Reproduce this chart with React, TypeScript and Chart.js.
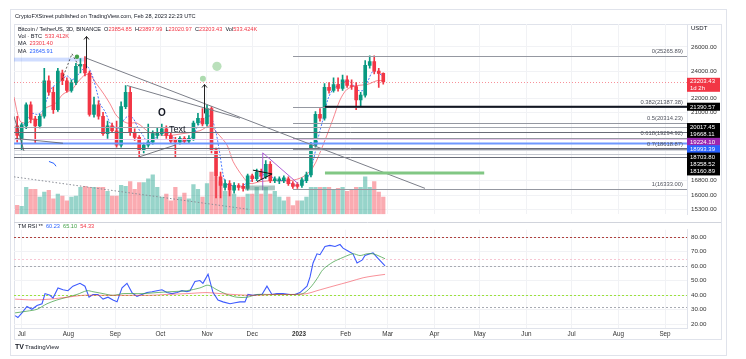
import React, { useEffect, useRef } from "react";
import { Chart, registerables } from "chart.js";
Chart.register(...registerables);

const FONT = '"Liberation Sans", Arial, Helvetica, sans-serif';
const UP = "#089981";
const DOWN = "#f23645";
const TXT = "#131722";

// ---- time axis (days since 2022-07-01) ----
const monthDays = [0, 31, 62, 92, 123, 153, 184, 215, 243, 274, 304, 335, 365, 396, 427];
const monthLabels = ["Jul", "Aug", "Sep", "Oct", "Nov", "Dec", "2023", "Feb", "Mar", "Apr", "May", "Jun", "Jul", "Aug", "Sep"];

// ---- 3D candles ----
const candleDays = [-3, 0, 3, 6, 9, 12, 15, 18, 21, 24, 27, 30, 33, 36, 39, 42, 45, 48, 51, 54,
  57, 60, 63, 66, 69, 72, 75, 78, 81, 84, 87, 90, 93, 96, 99, 102, 105, 108, 111, 114,
  117, 120, 123, 126, 129, 132, 135, 138, 141, 144, 147, 150, 153, 156, 159, 162, 165, 168, 171, 174,
  177, 180, 183, 186, 189, 192, 195, 198, 201, 204, 207, 210, 213, 216, 219, 222, 225, 228, 231, 234,
  237, 240];
const opens = [20091, 19288, 20091, 21528, 20538, 20091, 20732, 23286, 22425, 21191,
  23877, 23286, 22567, 23140, 24409, 24562, 23877, 20863, 21528, 20732,
  19594, 20091, 19778, 18869, 21393, 22425, 19654, 19348, 18575, 18869,
  19046, 19470, 19594, 19903, 19470, 19167, 19046, 19288, 19107, 19288,
  20281, 20602, 20218, 21259, 18575, 17013, 16436, 16643, 16282, 16539,
  16488, 16384, 17067, 16906, 17282, 17013, 17721, 16800, 16800, 16800,
  16906, 16643, 16591, 16539, 16800, 17120, 18869, 20863, 20602, 22779,
  22567, 22996, 22708, 23359, 22923, 22851, 21869, 22215, 24485, 24794,
  24028, 23854.85];
const highs = [20732, 20281, 21664, 21732, 20732, 20863, 24255, 23654, 22779, 24255,
  24104, 23506, 23359, 24639, 25029, 25187, 24028, 22075, 21801, 20994,
  20409, 20281, 20409, 21732, 22923, 22779, 19903, 19470, 18988, 20218,
  19778, 19965, 20218, 20091, 19654, 19348, 19409, 19409, 19470, 20409,
  20928, 21259, 21528, 21393, 18692, 17282, 16853, 16800, 16696, 16643,
  16643, 17173, 17173, 17445, 17445, 17945, 17889, 17013, 17013, 17067,
  17013, 16749, 16696, 16959, 17282, 19046, 21060, 21259, 23068, 23140,
  23506, 23506, 23727, 23654, 23359, 23140, 22425, 24873, 25266, 25266,
  24255, 23897.99];
const lows = [19046, 18575, 19903, 20281, 18988, 19965, 20602, 22215, 20928, 21060,
  22996, 22425, 22425, 22996, 23877, 23654, 20732, 20667, 20538, 19470,
  19288, 19716, 18751, 18751, 21259, 19470, 19167, 18172, 18401, 18751,
  18928, 19288, 19470, 19288, 18988, 18172, 18928, 18988, 18988, 19167,
  20154, 20091, 20091, 18401, 15878, 15878, 16282, 15979, 16129, 16282,
  16231, 16282, 16749, 16800, 16906, 16906, 16696, 16696, 16643, 16696,
  16539, 16384, 16384, 16436, 16696, 17013, 18751, 20409, 20473, 22354,
  22425, 22496, 22567, 22779, 22637, 21191, 21393, 22075, 24255, 23801,
  22779, 23020.97];
const closes = [19470, 20154, 21528, 20538, 20091, 20732, 23286, 22425, 21191, 24028,
  23286, 22567, 23140, 24409, 24562, 23877, 20863, 21528, 20732, 19594,
  20091, 19778, 18869, 21393, 22425, 19654, 19348, 18575, 18869, 19046,
  19594, 19654, 19903, 19470, 19107, 19046, 19288, 19107, 19288, 20281,
  20602, 20218, 21259, 18575, 17067, 16539, 16643, 16282, 16539, 16436,
  16384, 17067, 16906, 17282, 17067, 17721, 16800, 16906, 16906, 16959,
  16643, 16488, 16488, 16853, 17120, 18869, 20863, 20602, 22779, 22567,
  22996, 22708, 23359, 22923, 22851, 21869, 22215, 24485, 24794, 24028,
  23854.85, 23203.43];
// volume, thousands of BTC
const volumes = [275, 246, 829, 770, 770, 533, 681, 740, 474, 622,
  562, 414, 533, 562, 829, 858, 829, 829, 829, 829,
  710, 562, 562, 888, 858, 1006, 770, 977, 977, 1095,
  1214, 829, 533, 622, 414, 829, 533, 651, 474, 918,
  770, 533, 947, 1302, 1154, 1006, 710, 710, 622, 533,
  533, 622, 622, 829, 622, 829, 622, 710, 533, 414,
  533, 266, 414, 414, 533, 829, 829, 829, 829, 829,
  770, 800, 829, 710, 770, 829, 829, 1154, 829, 1006,
  681, 533.424];

// ---- moving averages ----
const maSlowDays = [-5.1, -1.1, 3.5, 7.5, 11.5, 15.5, 22.1, 27.4, 33.4, 38.0, 42.0, 45.3, 50.0, 54.6, 58.6, 63.3, 69.9, 76.5, 85.2, 96.4,
  107.1, 118.3, 124.9, 129.6, 136.3, 140.3, 146.9, 151.5, 158.2, 166.8, 178.1, 186.7, 193.4, 200.0, 206.6, 211.3, 215.9, 222.6, 229.2, 235.8, 240];
const maSlowVals = [22075, 20409, 20281, 20538, 20538, 21259, 21596, 22284, 22637, 23286, 23727, 23727, 22996, 22284, 21596, 20732, 20281, 20281, 19654, 19470,
  19594, 19778, 20091, 19654, 18869, 17889, 17013, 16643, 16749, 16800, 16800, 17013, 17555, 18869, 20538, 21869, 22637, 22923, 22996, 23286, 23301.40];
const maFastDays = [-3.1, 0.2, 3.5, 6.8, 10.2, 13.5, 16.8, 20.1, 23.4, 26.7, 30.1, 33.4, 36.7, 40.0, 43.4, 46.7, 50.0, 52.0, 55.3, 58.6,
  60.6, 63.9, 67.2, 70.5, 73.9, 77.2, 80.5, 83.8, 87.2, 90.5, 93.8, 97.1, 100.4, 103.7, 107.1, 110.4, 113.7, 117.0, 120.3, 123.7,
  125.6, 129.0, 131.6, 133.6, 135.6, 138.9, 142.2, 145.6, 148.9, 152.2, 155.5, 158.8, 162.2, 165.5, 168.8, 172.1, 175.4, 178.7, 182.1, 185.4,
  190.0, 193.4, 196.7, 200.0, 203.3, 206.6, 210.0, 213.3, 216.6, 219.9, 223.3, 226.6, 229.9, 233.2, 236.5, 239.8];
const maFastVals = [19654, 19965, 20538, 20928, 20863, 21060, 21938, 22779, 22996, 23359, 23654, 23359, 23654, 24104, 24409, 23727, 22425, 21596, 21060, 20281,
  20091, 19903, 20409, 20732, 20602, 19965, 19470, 19046, 19167, 19470, 19654, 19654, 19348, 19167, 19107, 19167, 19470, 20091, 20538, 20732,
  20732, 19654, 18286, 17173, 16643, 16539, 16539, 16488, 16643, 16800, 17013, 17067, 17173, 17067, 16800, 16800, 16800, 16643, 16539, 16643,
  17013, 17889, 19288, 20538, 21938, 22637, 22923, 23140, 23286, 22996, 22567, 22567, 23286, 24028, 23877, 23645.91];

// ---- RSI pane ----
const rsiDays = [-4.4, -2.5, 0.2, 3.5, 6.8, 10.2, 13.5, 15.5, 18.8, 20.8, 24.1, 27.4, 30.7, 34.0, 38.7, 42.0, 44.7, 47.3, 50.6, 54.0,
  57.3, 60.6, 63.3, 66.6, 69.9, 73.2, 76.5, 79.8, 83.2, 86.5, 89.8, 93.1, 96.4, 99.8, 103.1, 106.4, 109.7, 111.7, 115.0, 118.3,
  120.3, 123.7, 127.0, 130.3, 133.6, 138.3, 141.6, 144.9, 148.2, 150.2, 153.5, 156.9, 159.5, 162.8, 166.1, 169.4, 173.4, 178.1, 181.4, 184.7,
  189.4, 191.4, 193.4, 196.0, 198.0, 201.3, 204.6, 208.0, 211.3, 213.3, 216.6, 219.9, 222.6, 225.9, 227.9, 231.2, 233.2, 236.5, 241.2];
const rsiVals = [25.9, 24.6, 27.8, 32.2, 30.3, 32.9, 34.1, 41.1, 39.9, 38.0, 45.0, 43.7, 43.1, 46.2, 48.2, 46.2, 38.6, 40.5, 40.5, 37.3,
  38.6, 36.7, 35.4, 45.0, 48.2, 41.8, 39.2, 40.5, 41.8, 42.4, 43.1, 43.7, 41.8, 41.1, 41.8, 43.1, 42.4, 43.1, 49.4, 50.1,
  48.2, 54.5, 41.8, 36.7, 35.4, 34.1, 34.8, 35.4, 35.4, 40.5, 39.9, 40.5, 40.5, 46.2, 40.5, 41.1, 41.1, 40.5, 40.5, 41.8,
  46.2, 52.6, 62.2, 68.5, 67.9, 73.6, 74.3, 73.6, 74.9, 72.4, 70.4, 68.5, 62.2, 64.1, 67.3, 68.5, 69.2, 65.3, 60.23];
const rsiMaDays = [-4.4, 3.5, 10.2, 16.8, 23.4, 30.1, 36.7, 43.4, 47.3, 54.0, 60.6, 67.3, 73.9, 80.5, 89.8, 98.4, 109.7, 118.3, 123.7, 129.6,
  136.3, 142.9, 149.6, 156.2, 162.8, 171.4, 180.1, 186.7, 191.4, 196.0, 200.0, 206.6, 213.3, 219.9, 224.6, 229.2, 233.2, 236.5, 241.2];
const rsiMaVals = [27.8, 29.0, 30.3, 34.1, 36.7, 38.6, 40.5, 43.1, 42.4, 41.1, 39.9, 41.1, 41.1, 41.1, 41.8, 42.4, 43.1, 45.0, 46.9, 43.7,
  40.5, 38.6, 38.6, 40.5, 40.5, 40.5, 40.5, 41.1, 45.0, 51.3, 57.7, 62.8, 66.0, 68.5, 67.3, 68.5, 68.5, 67.3, 65.10];
const rsiSlowDays = [-4.4, 7.5, 18.8, 30.1, 40.7, 52.0, 63.3, 73.9, 85.2, 96.4, 109.7, 123.0, 131.6, 140.3, 153.5, 166.8, 180.1, 189.4, 196.0, 206.6, 217.9, 226.6, 233.2, 241.2];
const rsiSlowVals = [37.3, 36.7, 37.3, 38.6, 39.9, 39.9, 39.9, 39.9, 39.9, 40.5, 41.1, 41.8, 41.1, 40.5, 39.9, 40.5, 40.5, 41.1, 43.1, 46.2, 49.4, 52.0, 53.2, 54.33];
const rsiLevels = [80, 65, 60, 40, 32];
const rsiLevelColors = ["#b0413e", "#f7c6d3", "#a8abb3", "#9be23c", "#a8abb3"];
const rsiTicks = [20, 30, 40, 50, 60, 70, 80];

// ---- price axis ----
const priceTicks = [15300, 16000, 16800, 21000, 22000, 24000, 26000];
const lastPrice = 23203.43;

// horizontal levels
const hLineVals = [20017.45, 19668.11, 19224.10, 18993.39, 18703.80, 18575, 18358.52, 18160.89];
const hLineColors = ["#a3a6af", "#6a6d78", "#e6c6ec", "#6f98ff", "#6a6d78", "#d6d8de", "#c3c6ce", "#6a6d78"];
const hLineWidths = [1, 1, 1, 2, 1, 1, 1, 1];
const boxVals = [21390.57, 20017.45, 19668.11, 19224.10, 18993.39, 18703.80, 18358.52, 18160.89];
const boxColors = ["#000000", "#000000", "#000000", "#9c27b0", "#2962ff", "#000000", "#000000", "#000000"];
const thickLine = [201.3, 21390.57];

// fibonacci retracement
const fibRatios = ["0", "0.382", "0.5", "0.618", "0.7", "1"];
const fibPrices = [25265.89, 21387.38, 20314.23, 19294.92, 18618.87, 16333.0];
const fibStartDay = 180.1;

// drawings [day1, price1, day2, price2]
const trendLines = [[42.0, 25108, 267.7, 16384], [69.9, 22923, 144.9, 20602]];
const dottedLine = [-5.1, 17013, 151.5, 15290];
const thinLines = [[-4.4, 19288, 27.4, 18988], [-5.1, 20732, 1.5, 18517], [78.5, 18172, 101.8, 18869]];
const peakDash = [[26.7, 23359], [33.4, 25425], [38.7, 24255]];
const arrows = [[42.5, 24255, 26904], [121.1, 20928, 22996]];
const greenDots = [[36.7, 25187, 2.2, "#43a047"], [120.3, 23432, 3, "rgba(129,199,132,0.65)"], [129.6, 24408, 4.6, "rgba(129,199,132,0.55)"]];
const purpleLines = [[160.0, 18401, 160.0, 16282], [160.0, 18401, 183.4, 16643]];
const blackWedge = [[153.5, 17390, 166.2, 17173], [156.2, 16749, 166.2, 17173]];
const tealBox = [148.2, 16539, 168.1, 16282];
const blueBand = [-5.1, 25108, 42.7, 24793];
const greenBar = [201.3, 307.0, 17228];
const blueSquiggle = [[18.1, 17889], [21.4, 17777], [22.8, 17611]];
const noteO = [93.1, 20928];
const noteText = [97.7, 19841];

const X_MIN = -5.1;
const X_MAX = 441.6;

function seg(ctx: any, x1: number, y1: number, x2: number, y2: number, color: string, width = 1, dash: number[] = []) {
  ctx.save();
  ctx.strokeStyle = color;
  ctx.lineWidth = width;
  ctx.setLineDash(dash);
  ctx.beginPath();
  ctx.moveTo(x1, y1);
  ctx.lineTo(x2, y2);
  ctx.stroke();
  ctx.restore();
}

function runs(ctx: any, x: number, y: number, parts: [string, string][], font: string) {
  ctx.font = font;
  ctx.textBaseline = "middle";
  ctx.textAlign = "left";
  let cx = x;
  for (const [t, c] of parts) {
    ctx.fillStyle = c;
    ctx.fillText(t, cx, y);
    cx += ctx.measureText(t).width;
  }
}

const pricePlugin = {
  id: "priceDecor",
  beforeDatasetsDraw(chart: any) {
    const { ctx, chartArea: a } = chart;
    const X = (d: number) => chart.scales.x.getPixelForValue(d);
    const Y = (p: number) => chart.scales.y.getPixelForValue(p);
    ctx.save();
    ctx.beginPath();
    ctx.rect(a.left, a.top, a.right - a.left, a.bottom - a.top);
    ctx.clip();
    ctx.fillStyle = "rgba(41,98,255,0.22)";
    ctx.fillRect(X(blueBand[0]), Y(blueBand[1]), X(blueBand[2]) - X(blueBand[0]), Y(blueBand[3]) - Y(blueBand[1]));
    ctx.restore();
  },
  afterDatasetsDraw(chart: any) {
    const { ctx, chartArea: a } = chart;
    const X = (d: number) => chart.scales.x.getPixelForValue(d);
    const Y = (p: number) => chart.scales.y.getPixelForValue(p);
    ctx.save();
    ctx.beginPath();
    ctx.rect(a.left, a.top, a.right - a.left, a.bottom - a.top);
    ctx.clip();

    // full width levels
    hLineVals.forEach((v, i) => {
      const y = Math.round(Y(v)) + 0.5;
      seg(ctx, a.left, y, a.right, y, hLineColors[i], hLineWidths[i]);
    });
    // fib
    fibPrices.forEach((p) => {
      const y = Math.round(Y(p)) + 0.5;
      seg(ctx, X(fibStartDay), y, a.right, y, "#9598a1", 1);
    });
    // thick black level
    {
      const y = Y(thickLine[1]);
      seg(ctx, X(thickLine[0]), y, a.right, y, "#131722", 2);
    }
    // last price dotted
    {
      const y = Math.round(Y(lastPrice)) + 0.5;
      seg(ctx, a.left, y, a.right, y, "rgba(242,54,69,0.55)", 1, [1, 2]);
    }
    // trend lines
    trendLines.forEach((t) => seg(ctx, X(t[0]), Y(t[1]), X(t[2]), Y(t[3]), "#7c7f89", 1));
    seg(ctx, X(dottedLine[0]), Y(dottedLine[1]), X(dottedLine[2]), Y(dottedLine[3]), "#8a8d96", 1, [1.5, 2]);
    thinLines.forEach((t) => seg(ctx, X(t[0]), Y(t[1]), X(t[2]), Y(t[3]), "#55585f", 0.8));
    // dashed peak
    for (let i = 0; i < peakDash.length - 1; i++) {
      seg(ctx, X(peakDash[i][0]), Y(peakDash[i][1]), X(peakDash[i + 1][0]), Y(peakDash[i + 1][1]), "#333", 0.8, [2, 2]);
    }
    // arrows
    arrows.forEach((ar) => {
      const x = Math.round(X(ar[0])) + 0.5;
      const y1 = Y(ar[1]);
      const y2 = Y(ar[2]);
      seg(ctx, x, y1, x, y2, "#222", 1);
      seg(ctx, x - 2.5, y2 + 3, x, y2, "#222", 1);
      seg(ctx, x + 2.5, y2 + 3, x, y2, "#222", 1);
    });
    // green dots
    greenDots.forEach((g: any) => {
      ctx.beginPath();
      ctx.fillStyle = g[3];
      ctx.arc(X(g[0]), Y(g[1]), g[2], 0, Math.PI * 2);
      ctx.fill();
    });
    // purple
    purpleLines.forEach((t) => seg(ctx, X(t[0]), Y(t[1]), X(t[2]), Y(t[3]), "#b05fd6", 1));
    // black wedge
    blackWedge.forEach((t) => seg(ctx, X(t[0]), Y(t[1]), X(t[2]), Y(t[3]), "#111", 1));
    // teal box
    ctx.fillStyle = "rgba(70,130,120,0.45)";
    ctx.fillRect(X(tealBox[0]), Y(tealBox[1]), X(tealBox[2]) - X(tealBox[0]), Y(tealBox[3]) - Y(tealBox[1]));
    // green bar
    seg(ctx, X(greenBar[0]), Y(greenBar[2]), X(greenBar[1]), Y(greenBar[2]), "#81c784", 3);
    // blue squiggle
    ctx.strokeStyle = "#2962ff";
    ctx.lineWidth = 1;
    ctx.beginPath();
    blueSquiggle.forEach((p, i) => (i ? ctx.lineTo(X(p[0]), Y(p[1])) : ctx.moveTo(X(p[0]), Y(p[1]))));
    ctx.stroke();
    // notes
    ctx.fillStyle = TXT;
    ctx.textBaseline = "middle";
    ctx.textAlign = "center";
    ctx.font = `bold 10px ${FONT}`;
    ctx.fillText("O", X(noteO[0]), Y(noteO[1]));
    ctx.textAlign = "left";
    ctx.font = `9px ${FONT}`;
    ctx.fillText("Text", X(noteText[0]), Y(noteText[1]));
    ctx.restore();
  },
  afterDraw(chart: any) {
    const { ctx, chartArea: a } = chart;
    const Y = (p: number) => chart.scales.y.getPixelForValue(p);
    ctx.save();
    // header
    runs(ctx, 15, 16, [["CryptoFXStreet published on TradingView.com, Feb 28, 2023 22:23 UTC", TXT]], `5.6px ${FONT}`);
    // legend
    const f = `5.6px ${FONT}`;
    runs(ctx, 18, 29, [
      ["Bitcoin / TetherUS, 3D, BINANCE  ", TXT], ["O", TXT], ["23854.85  ", DOWN], ["H", TXT], ["23897.99  ", DOWN],
      ["L", TXT], ["23020.97  ", DOWN], ["C", TXT], ["23203.43  ", DOWN], ["Vol", TXT], ["533.424K", DOWN],
    ], f);
    runs(ctx, 18, 36.5, [["Vol · BTC  ", TXT], ["533.412K", DOWN]], f);
    runs(ctx, 18, 43.5, [["MA  ", TXT], ["23301.40", DOWN]], f);
    runs(ctx, 18, 51.5, [["MA  ", TXT], ["23645.91", "#2962ff"]], f);
    // USDT
    runs(ctx, 691, 28, [["USDT", TXT]], `6px ${FONT}`);
    // fib labels
    ctx.font = `5.8px ${FONT}`;
    ctx.textAlign = "right";
    ctx.fillStyle = "#50535e";
    fibPrices.forEach((p, i) => {
      ctx.fillText(`${fibRatios[i]}(${p.toFixed(2)})`, a.right - 4, Y(p) - 4.5);
    });
    // right boxes
    ctx.textAlign = "left";
    ctx.font = `6px ${FONT}`;
    let prev = -100;
    boxVals.forEach((v, i) => {
      let y = Y(v);
      if (i > 0) y = Math.max(y, prev + 7.4);
      prev = y;
      ctx.fillStyle = boxColors[i];
      ctx.fillRect(a.right, y - 4, 33, 8);
      ctx.fillStyle = "#fff";
      ctx.fillText(v.toFixed(2), a.right + 3, y + 0.3);
    });
    // last price box
    const ly = Y(lastPrice);
    ctx.fillStyle = DOWN;
    ctx.fillRect(a.right, ly - 4, 33, 14);
    ctx.fillStyle = "#fff";
    ctx.fillText(lastPrice.toFixed(2), a.right + 3, ly);
    ctx.fillText("1d 2h", a.right + 3, ly + 6.5);
    ctx.restore();
  },
};

const rsiPlugin = {
  id: "rsiDecor",
  beforeDatasetsDraw(chart: any) {
    const { ctx, chartArea: a } = chart;
    const Y = (v: number) => chart.scales.y.getPixelForValue(v);
    rsiLevels.forEach((v, i) => {
      const y = Math.round(Y(v)) + 0.5;
      seg(ctx, a.left, y, a.right, y, rsiLevelColors[i], 1, [2, 2]);
    });
  },
  afterDraw(chart: any) {
    const { ctx, chartArea: a } = chart;
    ctx.save();
    seg(ctx, a.left, 0.5, a.right + 34, 0.5, "#d1d4dc", 1);
    runs(ctx, 18, 4.5, [["TM RSI **  ", TXT], ["60.23  ", "#2962ff"], ["65.10  ", "#43a047"], ["54.33", DOWN]], `5.6px ${FONT}`);
    // footer
    ctx.fillStyle = TXT;
    ctx.font = `bold 7px ${FONT}`;
    ctx.textBaseline = "middle";
    ctx.fillText("TV", 15, 125);
    runs(ctx, 25, 125, [["TradingView", TXT]], `6.2px ${FONT}`);
    ctx.restore();
  },
};

function xAxis(showLabels: boolean) {
  return {
    type: "linear",
    min: X_MIN,
    max: X_MAX,
    offset: false,
    afterBuildTicks: (s: any) => {
      s.ticks = monthDays.map((v) => ({ value: v }));
    },
    afterFit: (s: any) => {
      s.height = showLabels ? 11 : 0;
    },
    grid: { color: "#f1f2f5", drawTicks: false, offset: false },
    border: { display: showLabels, color: "#e0e3eb" },
    ticks: {
      display: showLabels,
      autoSkip: false,
      maxRotation: 0,
      padding: 2,
      color: "#333",
      font: (c: any) => ({ family: FONT, size: 6.3, weight: c.index === 6 ? "bold" : "normal" }),
      callback: (v: any) => {
        const i = monthDays.indexOf(Number(v));
        return i >= 0 ? monthLabels[i] : "";
      },
    },
  };
}

export default function App() {
  const priceRef = useRef<HTMLCanvasElement>(null);
  const rsiRef = useRef<HTMLCanvasElement>(null);

  useEffect(() => {
    const isUp = closes.map((c, i) => c >= opens[i]);
    const candleColors = isUp.map((u) => (u ? UP : DOWN));
    const volColors = isUp.map((u) => (u ? "rgba(8,153,129,0.42)" : "rgba(242,54,69,0.42)"));

    const price = new Chart(priceRef.current as HTMLCanvasElement, {
      type: "bar",
      data: {
        datasets: [
          {
            type: "bar",
            label: "Volume",
            yAxisID: "yVol",
            data: candleDays.map((d, i) => ({ x: d, y: volumes[i] })),
            backgroundColor: volColors,
            barThickness: 3.6,
            grouped: false,
            order: 9,
          } as any,
          {
            type: "line",
            label: "MA slow",
            yAxisID: "y",
            data: maSlowDays.map((d, i) => ({ x: d, y: maSlowVals[i] })),
            borderColor: "rgba(242,54,69,0.6)",
            borderWidth: 1,
            pointRadius: 0,
            tension: 0.3,
            order: 3,
          },
          {
            type: "line",
            label: "MA fast",
            yAxisID: "y",
            data: maFastDays.map((d, i) => ({ x: d, y: maFastVals[i] })),
            borderColor: "rgba(41,98,255,0.85)",
            borderWidth: 1,
            borderDash: [2, 1.5],
            pointRadius: 0,
            tension: 0.3,
            order: 2,
          },
          {
            type: "bar",
            label: "Wick",
            yAxisID: "y",
            data: candleDays.map((d, i) => ({ x: d, y: [lows[i], highs[i]] })),
            backgroundColor: candleColors,
            barThickness: 1,
            grouped: false,
            order: 1,
          } as any,
          {
            type: "bar",
            label: "Body",
            yAxisID: "y",
            data: candleDays.map((d, i) => ({ x: d, y: [opens[i], closes[i]] })),
            backgroundColor: candleColors,
            barThickness: 3,
            minBarLength: 1,
            grouped: false,
            order: 0,
          } as any,
        ],
      },
      options: {
        animation: false,
        responsive: false,
        maintainAspectRatio: false,
        layout: { padding: { left: 14, top: 24, right: 0, bottom: 0 } },
        plugins: { legend: { display: false }, tooltip: { enabled: false } },
        scales: {
          x: xAxis(false) as any,
          y: {
            type: "logarithmic",
            position: "right",
            min: 15055,
            max: 28023,
            afterBuildTicks: (s: any) => {
              s.ticks = priceTicks.map((v) => ({ value: v }));
            },
            afterFit: (s: any) => {
              s.width = 59;
            },
            grid: { color: "#f1f2f5", drawTicks: false },
            border: { color: "#e0e3eb" },
            ticks: {
              autoSkip: false,
              padding: 4,
              color: "#333",
              font: { family: FONT, size: 6.2 },
              callback: (v: any) => Number(v).toFixed(2),
            },
          },
          yVol: { type: "linear", display: false, min: 0, max: 5861 },
        },
      },
      plugins: [pricePlugin],
    });

    const rsi = new Chart(rsiRef.current as HTMLCanvasElement, {
      type: "line",
      data: {
        datasets: [
          {
            label: "RSI slow",
            data: rsiSlowDays.map((d, i) => ({ x: d, y: rsiSlowVals[i] })),
            borderColor: "rgba(242,54,69,0.55)",
            borderWidth: 1,
            pointRadius: 0,
            tension: 0.3,
          },
          {
            label: "RSI MA",
            data: rsiMaDays.map((d, i) => ({ x: d, y: rsiMaVals[i] })),
            borderColor: "rgba(67,160,71,0.75)",
            borderWidth: 1,
            pointRadius: 0,
            tension: 0.3,
          },
          {
            label: "RSI",
            data: rsiDays.map((d, i) => ({ x: d, y: rsiVals[i] })),
            borderColor: "#3d5afe",
            borderWidth: 1.1,
            pointRadius: 0,
            tension: 0,
          },
        ],
      },
      options: {
        animation: false,
        responsive: false,
        maintainAspectRatio: false,
        layout: { padding: { left: 14, top: 0, right: 0, bottom: 20 } },
        plugins: { legend: { display: false }, tooltip: { enabled: false } },
        scales: {
          x: xAxis(true) as any,
          y: {
            type: "linear",
            position: "right",
            min: 17.4,
            max: 85.1,
            afterBuildTicks: (s: any) => {
              s.ticks = rsiTicks.map((v) => ({ value: v }));
            },
            afterFit: (s: any) => {
              s.width = 59;
            },
            grid: { color: "#f1f2f5", drawTicks: false },
            border: { color: "#e0e3eb" },
            ticks: {
              autoSkip: false,
              padding: 4,
              color: "#333",
              font: { family: FONT, size: 6.2 },
              callback: (v: any) => Number(v).toFixed(2),
            },
          },
        },
      },
      plugins: [rsiPlugin],
    });

    return () => {
      price.destroy();
      rsi.destroy();
    };
  }, []);

  return (
    <div style={{ position: "absolute", left: 0, top: 0, width: 746, height: 359, background: "#fff", overflow: "hidden" }}>
      <div style={{ position: "absolute", left: 10, top: 9, width: 715, height: 345, border: "1px solid #e0e3eb" }} />
      <div style={{ position: "absolute", left: 14, top: 24, width: 706, height: 314, border: "1px solid #e0e3eb" }} />
      <canvas ref={priceRef} width={746} height={222} style={{ position: "absolute", left: 0, top: 0 }} />
      <canvas ref={rsiRef} width={746} height={137} style={{ position: "absolute", left: 0, top: 222 }} />
    </div>
  );
}
